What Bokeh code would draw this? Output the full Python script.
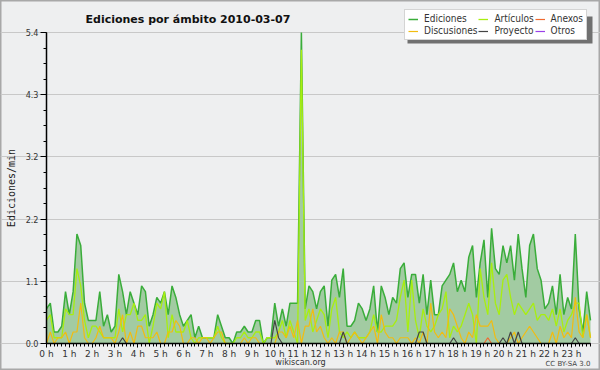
from bokeh.plotting import figure
from bokeh.models import (ColumnDataSource, FixedTicker, Legend, LegendItem, Label,
                          Range1d, NumeralTickFormatter, BoxAnnotation)
from bokeh.embed import file_html
from bokeh.resources import INLINE

# 10-minute slots over the day (minutes since 00:00)
slot_minutes = list(range(0, 1440, 10))
hour_ticks = list(range(24))
hour_labels = [f"{h} h" for h in hour_ticks]

ediciones = [
    0.6, 0.7, 0.2, 0.2, 0.3, 0.9, 0.5, 0.9, 1.9, 1.7,
    0.7, 0.4, 0.4, 0.4, 0.9, 0.3, 0.5, 0.2, 0.3, 1.2,
    0.9, 0.5, 0.9, 0.7, 0.5, 1.0, 0.9, 0.3, 0.5, 0.8,
    0.7, 0.9, 0.5, 1.0, 0.8, 0.5, 0.3, 0.4, 0.5, 0.1,
    0.3, 0.1, 0.1, 0.1, 0.1, 0.5, 0.3, 0.1, 0.1, 0.0,
    0.2, 0.2, 0.3, 0.2, 0.2, 0.4, 0.4, 0.0, 0.1, 0.1,
    0.7, 0.3, 0.6, 0.3, 0.7, 0.7, 0.7, 5.4, 0.6, 1.0,
    0.9, 0.6, 0.9, 1.0, 0.3, 1.1, 1.2, 0.8, 1.3, 0.3,
    0.3, 0.4, 0.7, 0.6, 0.4, 0.6, 1.0, 0.2, 1.0, 0.8,
    0.5, 0.8, 0.7, 1.3, 1.4, 0.8, 1.2, 1.2, 0.7, 1.2,
    0.5, 1.1, 0.5, 0.5, 1.0, 1.1, 1.2, 1.4, 0.9, 1.1,
    0.9, 1.5, 1.7, 0.8, 1.4, 1.8, 0.8, 2.0, 1.3, 1.2,
    1.7, 1.4, 1.7, 1.1, 1.9, 1.3, 0.8, 1.7, 1.9, 1.3,
    1.1, 0.6, 0.7, 1.0, 0.5, 1.2, 0.5, 0.8, 0.6, 1.9,
    0.6, 0.2, 0.9, 0.4]

articulos = [
    0.4, 0.5, 0.1, 0.1, 0.1, 0.6, 0.5, 0.5, 1.3, 1.0,
    0.4, 0.1, 0.3, 0.3, 0.2, 0.1, 0.1, 0.1, 0.1, 0.6,
    0.2, 0.5, 0.5, 0.7, 0.4, 0.4, 0.5, 0.0, 0.3, 0.7,
    0.6, 0.9, 0.1, 0.5, 0.2, 0.2, 0.2, 0.4, 0.1, 0.0,
    0.1, 0.1, 0.1, 0.1, 0.1, 0.3, 0.1, 0.0, 0.0, 0.0,
    0.1, 0.1, 0.2, 0.1, 0.1, 0.2, 0.2, 0.0, 0.1, 0.1,
    0.1, 0.2, 0.4, 0.1, 0.4, 0.2, 0.0, 5.1, 0.4, 0.6,
    0.2, 0.4, 0.6, 0.5, 0.1, 0.6, 0.8, 0.2, 0.1, 0.2,
    0.1, 0.2, 0.1, 0.1, 0.1, 0.2, 0.5, 0.2, 0.2, 0.3,
    0.3, 0.3, 0.4, 0.8, 1.1, 0.2, 1.1, 0.4, 0.1, 0.6,
    0.3, 0.2, 0.3, 0.5, 0.6, 0.9, 0.1, 0.3, 0.2, 0.3,
    0.5, 0.7, 0.5, 0.0, 1.3, 0.8, 0.5, 1.4, 0.7, 0.5,
    1.1, 1.2, 0.8, 0.5, 0.7, 0.6, 0.5, 0.6, 0.7, 0.4,
    0.5, 0.5, 0.4, 0.6, 0.3, 0.6, 0.2, 0.4, 0.5, 0.7,
    0.7, 0.1, 0.5, 0.1]

discusiones = [
    0.0, 0.2, 0.0, 0.1, 0.1, 0.2, 0.0, 0.2, 0.2, 0.7,
    0.1, 0.0, 0.0, 0.1, 0.3, 0.1, 0.1, 0.1, 0.0, 0.2,
    0.5, 0.0, 0.2, 0.0, 0.3, 0.3, 0.1, 0.1, 0.1, 0.2,
    0.0, 0.0, 0.2, 0.2, 0.4, 0.3, 0.0, 0.0, 0.1, 0.1,
    0.0, 0.1, 0.1, 0.0, 0.1, 0.2, 0.2, 0.0, 0.0, 0.0,
    0.0, 0.0, 0.1, 0.0, 0.1, 0.1, 0.0, 0.0, 0.0, 0.0,
    0.0, 0.2, 0.2, 0.1, 0.3, 0.1, 0.4, 0.0, 0.3, 0.3,
    0.6, 0.2, 0.3, 0.1, 0.0, 0.1, 0.0, 0.2, 0.2, 0.0,
    0.1, 0.2, 0.1, 0.0, 0.1, 0.2, 0.3, 0.0, 0.5, 0.2,
    0.1, 0.1, 0.0, 0.1, 0.1, 0.1, 0.0, 0.1, 0.0, 0.2,
    0.0, 0.7, 0.2, 0.1, 0.2, 0.1, 0.6, 0.5, 0.3, 0.1,
    0.0, 0.2, 0.1, 0.5, 0.3, 0.3, 0.3, 0.4, 0.1, 0.0,
    0.0, 0.0, 0.1, 0.2, 0.0, 0.1, 0.2, 0.3, 0.2, 0.1,
    0.0, 0.0, 0.0, 0.2, 0.0, 0.3, 0.1, 0.2, 0.1, 0.8,
    0.2, 0.1, 0.5, 0.1]

proyecto = [
    0.0, 0.0, 0.0, 0.0, 0.0, 0.0, 0.0, 0.0, 0.0, 0.0,
    0.0, 0.0, 0.0, 0.0, 0.0, 0.0, 0.0, 0.0, 0.0, 0.0,
    0.1, 0.0, 0.0, 0.0, 0.0, 0.0, 0.0, 0.0, 0.0, 0.0,
    0.0, 0.0, 0.0, 0.0, 0.0, 0.0, 0.0, 0.0, 0.0, 0.0,
    0.0, 0.0, 0.0, 0.0, 0.0, 0.0, 0.0, 0.0, 0.0, 0.0,
    0.0, 0.0, 0.0, 0.0, 0.0, 0.0, 0.0, 0.0, 0.0, 0.0,
    0.4, 0.1, 0.0, 0.0, 0.0, 0.0, 0.0, 0.0, 0.0, 0.0,
    0.0, 0.0, 0.0, 0.0, 0.0, 0.0, 0.0, 0.0, 0.2, 0.0,
    0.0, 0.0, 0.0, 0.0, 0.0, 0.0, 0.0, 0.0, 0.0, 0.0,
    0.0, 0.0, 0.0, 0.0, 0.0, 0.0, 0.0, 0.0, 0.2, 0.2,
    0.0, 0.0, 0.0, 0.0, 0.0, 0.0, 0.0, 0.1, 0.0, 0.0,
    0.0, 0.0, 0.0, 0.0, 0.0, 0.0, 0.0, 0.0, 0.0, 0.0,
    0.1, 0.0, 0.2, 0.0, 0.2, 0.0, 0.0, 0.0, 0.0, 0.0,
    0.0, 0.0, 0.0, 0.0, 0.0, 0.0, 0.0, 0.0, 0.0, 0.1,
    0.0, 0.0, 0.0, 0.0]

anexos = [
    0.0, 0.0, 0.0, 0.0, 0.0, 0.0, 0.0, 0.0, 0.0, 0.0,
    0.0, 0.0, 0.0, 0.0, 0.0, 0.0, 0.0, 0.0, 0.0, 0.0,
    0.0, 0.0, 0.0, 0.0, 0.0, 0.0, 0.0, 0.0, 0.0, 0.0,
    0.0, 0.0, 0.0, 0.0, 0.0, 0.0, 0.0, 0.0, 0.0, 0.0,
    0.0, 0.0, 0.0, 0.0, 0.0, 0.0, 0.0, 0.0, 0.0, 0.0,
    0.0, 0.0, 0.0, 0.0, 0.0, 0.0, 0.0, 0.0, 0.0, 0.0,
    0.0, 0.0, 0.0, 0.0, 0.0, 0.0, 0.0, 0.0, 0.0, 0.0,
    0.0, 0.0, 0.0, 0.0, 0.0, 0.0, 0.0, 0.0, 0.0, 0.0,
    0.0, 0.0, 0.0, 0.0, 0.0, 0.0, 0.0, 0.0, 0.0, 0.0,
    0.0, 0.0, 0.0, 0.0, 0.0, 0.0, 0.0, 0.0, 0.0, 0.0,
    0.0, 0.0, 0.0, 0.0, 0.0, 0.0, 0.0, 0.0, 0.0, 0.0,
    0.0, 0.0, 0.0, 0.0, 0.0, 0.0, 0.1, 0.0, 0.0, 0.0,
    0.0, 0.0, 0.0, 0.0, 0.0, 0.0, 0.0, 0.0, 0.0, 0.0,
    0.0, 0.0, 0.0, 0.0, 0.0, 0.0, 0.0, 0.0, 0.0, 0.0,
    0.0, 0.0, 0.0, 0.0]

otros = [
    0.0, 0.0, 0.0, 0.0, 0.0, 0.0, 0.0, 0.0, 0.0, 0.0,
    0.0, 0.0, 0.0, 0.0, 0.0, 0.0, 0.0, 0.0, 0.0, 0.0,
    0.0, 0.0, 0.0, 0.0, 0.0, 0.0, 0.0, 0.0, 0.0, 0.0,
    0.0, 0.0, 0.0, 0.0, 0.0, 0.0, 0.0, 0.0, 0.0, 0.0,
    0.0, 0.0, 0.0, 0.0, 0.0, 0.0, 0.0, 0.0, 0.0, 0.0,
    0.0, 0.0, 0.0, 0.0, 0.0, 0.0, 0.0, 0.0, 0.0, 0.0,
    0.0, 0.0, 0.0, 0.0, 0.0, 0.0, 0.0, 0.0, 0.0, 0.0,
    0.0, 0.0, 0.0, 0.0, 0.0, 0.0, 0.0, 0.0, 0.0, 0.0,
    0.0, 0.0, 0.0, 0.0, 0.0, 0.0, 0.0, 0.0, 0.0, 0.0,
    0.0, 0.0, 0.0, 0.0, 0.0, 0.0, 0.0, 0.0, 0.0, 0.0,
    0.0, 0.0, 0.0, 0.0, 0.0, 0.0, 0.0, 0.0, 0.0, 0.0,
    0.0, 0.0, 0.0, 0.0, 0.0, 0.0, 0.0, 0.0, 0.0, 0.0,
    0.0, 0.0, 0.0, 0.0, 0.0, 0.0, 0.0, 0.0, 0.0, 0.0,
    0.0, 0.0, 0.0, 0.0, 0.0, 0.0, 0.0, 0.0, 0.0, 0.0,
    0.0, 0.0, 0.0, 0.0]

y_ticks = [0.0, 1.08, 2.16, 3.24, 4.32, 5.4]
y_minor = [0.27 * k for k in range(21)]
y_max = 5.4

hours = [m / 60 for m in slot_minutes]
src = ColumnDataSource(dict(h=hours, ed=ediciones, art=articulos, dis=discusiones,
                            pro=proyecto, anx=anexos, otr=otros))

# ---- layout geometry (pixels) ----
W, H = 600, 370
LEFT = 46            # x pixel of 0 h
RIGHT_DATA = 590     # x pixel of last slot
TOP_DATA = 32        # y pixel of y_max
BOTTOM_DATA = 343    # y pixel of 0
x_last = hours[-1]
XS = (RIGHT_DATA - LEFT) / x_last
YS = (BOTTOM_DATA - TOP_DATA) / y_max


def dx(px):
    return (px - LEFT) / XS


def dy(py):
    return (BOTTOM_DATA - py) / YS


BG = "#eeeff0"
FONT = "DejaVu Sans"
FONT_C = "DejaVu Sans Condensed"

p = figure(width=W, height=H, output_backend="svg", toolbar_location=None,
           x_range=Range1d(dx(0), dx(W)), y_range=Range1d(dy(H), dy(0)),
           min_border_left=0, min_border_right=0, min_border_top=0, min_border_bottom=0,
           background_fill_color=BG, border_fill_color=BG,
           outline_line_color="#a8a8a8", outline_line_width=2)

p.varea(x="h", y1=0, y2="ed", source=src, fill_color="#a2cba2")
r_ed = p.line("h", "ed", source=src, line_color="#3aad3a", line_width=1.5)
r_art = p.line("h", "art", source=src, line_color="#a8ee10", line_width=1.3)
r_dis = p.line("h", "dis", source=src, line_color="#f2bc10", line_width=1.2)
r_anx = p.line("h", "anx", source=src, line_color="#f06a30", line_width=1.2)
r_pro = p.line("h", "pro", source=src, line_color="#444444", line_width=1.2)
r_otr = p.line("h", "otr", source=src, line_color="#9a40e8", line_width=1.2)

# axes (drawn at the data origin)
xa = p.xaxis[0]
ya = p.yaxis[0]
xa.fixed_location = 0
ya.fixed_location = 0
xa.bounds = (0, x_last)
ya.bounds = (0, y_max)
xa.ticker = FixedTicker(ticks=hour_ticks, minor_ticks=hours)
xa.major_label_overrides = {h: lab for h, lab in zip(hour_ticks, hour_labels)}
ya.ticker = FixedTicker(ticks=y_ticks, minor_ticks=y_minor)
ya.formatter = NumeralTickFormatter(format="0.0")
for ax in (xa, ya):
    ax.axis_line_color = "black"
    ax.axis_line_width = 1.5
    ax.major_tick_line_color = "black"
    ax.minor_tick_line_color = "black"
    ax.major_tick_in = 0
    ax.minor_tick_in = 0
    ax.major_label_text_color = "#333333"
    ax.major_label_text_font_size = "9px"
xa.major_tick_out = 4
xa.minor_tick_out = 3
xa.major_label_standoff = 1
xa.major_label_text_font = FONT
ya.major_tick_out = 6
ya.minor_tick_out = 3
ya.major_label_standoff = 2
ya.major_label_text_font = FONT_C
ya.axis_label = "Ediciones/min"
ya.axis_label_text_font = "DejaVu Sans Mono"
ya.axis_label_text_font_size = "10px"
ya.axis_label_text_font_style = "normal"
ya.axis_label_text_color = "#222222"
ya.axis_label_standoff = 6

p.xgrid.visible = False
p.ygrid.grid_line_color = "#c8c8c8"
p.ygrid.bounds = (0, x_last)

# title and footer
p.add_layout(Label(x=dx(85), y=dy(19), text="Ediciones por ámbito  2010-03-07",
                   text_font=FONT, text_font_style="bold",
                   text_font_size="11px", text_baseline="alphabetic", text_color="#111111"))
p.add_layout(Label(x=dx(300), y=dy(361), text="wikiscan.org", text_align="center",
                   text_baseline="middle", text_font=FONT_C, text_font_size="9px",
                   text_color="#333333"))
p.add_layout(Label(x=dx(590), y=dy(363), text="CC BY-SA 3.0", text_align="right",
                   text_baseline="middle", text_font=FONT, text_font_size="7px",
                   text_color="#444444"))

# legend shadow
p.add_layout(BoxAnnotation(left=dx(407), right=dx(592), top=dy(16), bottom=dy(43),
                           fill_color="#707070", fill_alpha=1, line_color=None))

legend = Legend(items=[
    LegendItem(label="Ediciones", renderers=[r_ed]),
    LegendItem(label="Artículos", renderers=[r_art]),
    LegendItem(label="Anexos", renderers=[r_anx]),
    LegendItem(label="Discusiones", renderers=[r_dis]),
    LegendItem(label="Proyecto", renderers=[r_pro]),
    LegendItem(label="Otros", renderers=[r_otr]),
], orientation="horizontal", ncols=3, location=(404, H - 40))
legend.background_fill_color = "white"
legend.background_fill_alpha = 1
legend.border_line_color = "#aaaaaa"
legend.label_text_font = FONT_C
legend.label_text_font_size = "10px"
legend.label_text_color = "#333333"
legend.glyph_width = 10
legend.glyph_height = 10
legend.label_height = 10
legend.label_standoff = 6
legend.spacing = 1
legend.padding = 3
legend.margin = 0
p.add_layout(legend, "center")

open("out.html", "w").write(file_html(p, INLINE))
